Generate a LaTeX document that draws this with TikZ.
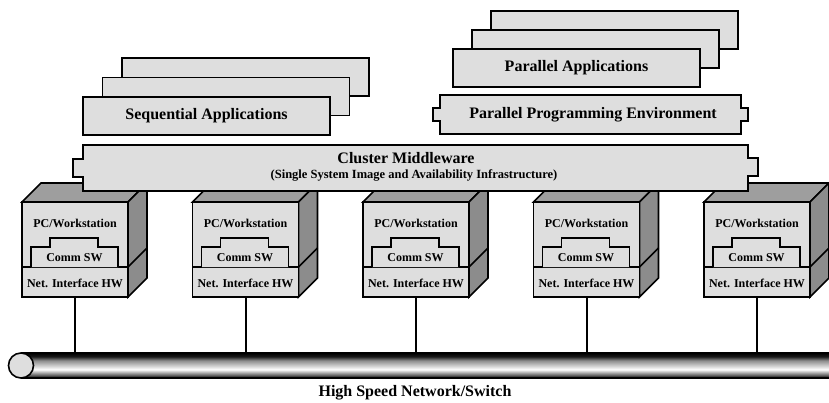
\documentclass[tikz,border=0pt]{standalone}
\usepackage{fontspec}
\setmainfont{Liberation Serif}
\definecolor{boxgray}{gray}{0.87}
\definecolor{topgray}{gray}{0.62}
\definecolor{sidegray}{gray}{0.55}
\pgfdeclareverticalshading{busshade}{100bp}{color(0bp)=(black); color(25bp)=(black); color(31bp)=(black!60); color(42bp)=(white); color(60bp)=(black!45); color(68bp)=(black!90); color(75bp)=(black); color(100bp)=(black)}
\begin{document}
\begin{tikzpicture}[x=1pt,y=-1pt,
  outl/.style={draw=black,line width=1.6pt,line join=miter},
  appbox/.style={outl,fill=boxgray,minimum width=247pt,minimum height=38pt,inner sep=0pt,font=\bfseries\fontsize{16}{18}\selectfont},
  lbl/.style={inner sep=0pt,font=\bfseries\fontsize{12}{13}\selectfont},
  wire/.style={line width=2pt}]
\useasboundingbox (0,0) rectangle (829,403);

% ---- Sequential applications stack
\node[appbox] (seqback) at (245.5,77) {};
\node[appbox] (seqmid) at (226,96.5) {};
\node[appbox] (seqapp) at (206.5,116) {Sequential Applications};

% ---- Parallel applications stack
\node[appbox] (parback) at (614.5,30) {};
\node[appbox] (parmid) at (595.5,49) {};
\node[appbox] (parapp) at (576.5,68) {Parallel Applications};

% ---- Parallel programming environment
\draw[outl,fill=boxgray] (440,95) -- (741,95) -- (741,108) -- (748,108) -- (748,121) -- (741,121) -- (741,134)
  -- (440,134) -- (440,121) -- (433,121) -- (433,108) -- (440,108) -- cycle;
\node[inner sep=0pt,font=\bfseries\fontsize{16}{18}\selectfont] (ppe) at (593,115) {Parallel Programming Environment};

% ---- Cubes
\foreach \i in {0,...,4}{
  \pgfmathsetmacro{\xo}{22+170.5*\i}
  \begin{scope}[shift={(\xo,0)}]
    \draw[outl,fill=topgray] (0,202) -- (19,183) -- (125,183) -- (106,202) -- cycle;
    \draw[outl,fill=sidegray] (106,202) -- (125,183) -- (125,278) -- (106,297) -- cycle;
    \draw[outl] (106,267) -- (125,248);
    \draw[outl,fill=boxgray] (0,202) rectangle (106,267);
    \draw[outl,fill=boxgray] (0,267) rectangle (106,297);
    \draw[outl,fill=boxgray] (9,267) -- (9,247) -- (28,247) -- (28,238) -- (76,238) -- (76,247) -- (96,247) -- (96,267);
    \node[lbl] (pc\i) at (53,223) {PC/Workstation};
    \node[lbl] (comm\i) at (52.5,258) {Comm SW};
    \node[lbl] (nic\i) at (53,283) {Net. Interface HW};
    \coordinate (nicb\i) at (53,297);
    \coordinate (bus\i) at (53,353);
  \end{scope}
}

% ---- Cluster middleware (drawn over the cube tops)
\draw[outl,fill=boxgray] (83,145) -- (748,145) -- (748,158) -- (758,158) -- (758,176) -- (748,176) -- (748,191)
  -- (83,191) -- (83,177) -- (73,177) -- (73,159) -- (83,159) -- cycle;
\node[inner sep=0pt,font=\bfseries\fontsize{16}{18}\selectfont] (mw) at (406,158) {Cluster Middleware};
\node[inner sep=0pt,font=\bfseries\fontsize{12.5}{14}\selectfont] (mwsub) at (414,175) {(Single System Image and Availability Infrastructure)};

% ---- Network bus
\path[shading=busshade] (21,353) rectangle (829,378);
\draw[line width=1.5pt] (21,353) -- (829,353);
\draw[line width=1.5pt] (21,378) -- (829,378);
\draw[outl,fill=boxgray] (21,365.5) circle (12.5);

\foreach \i in {0,...,4}{
  \draw[wire] (nicb\i) -- (bus\i);
}

\node[inner sep=0pt,font=\bfseries\fontsize{16}{18}\selectfont] (net) at (415,393) {High Speed Network/Switch};
\end{tikzpicture}
\end{document}
